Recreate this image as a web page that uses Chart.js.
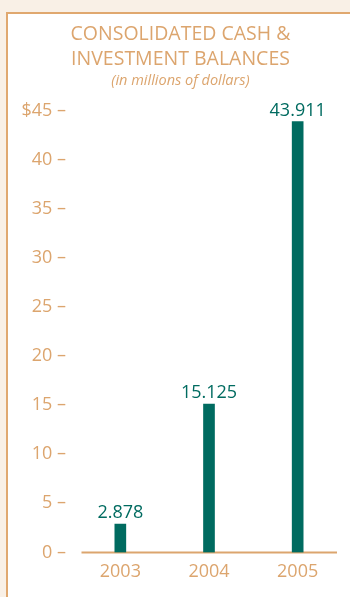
<!DOCTYPE html>
<html>
<head>
<meta charset="utf-8">
<script src="https://cdn.jsdelivr.net/npm/chart.js@4/dist/chart.umd.min.js"></script>
<style>
  html, body { margin: 0; padding: 0; }
  body { width: 350px; height: 597px; background: #f9f0e6; position: relative; overflow: hidden; }
  .panel { position: absolute; left: 6px; top: 12px; width: 400px; height: 700px;
           border: 2px solid #e0a86f; background: #ffffff; }
  #cash_chart { position: absolute; left: 0; top: 0; }
</style>
</head>
<body>
<div class="panel"></div>
<canvas id="cash_chart" width="350" height="597"></canvas>
<script>
const years = ["2003", "2004", "2005"];
const balances = [2.878, 15.125, 43.911];   // millions of dollars
const y_ticks = [0, 5, 10, 15, 20, 25, 30, 35, 40, 45];

const ORANGE = "#dca56e";
const TEAL = "#006b60";
const FONT = "'Open Sans', 'Noto Sans', sans-serif";

// value above each bar
const bar_values = {
    id: "bar_values",
    afterDatasetsDraw(chart){
        const ctx = chart.ctx;
        const meta = chart.getDatasetMeta(0);
        ctx.save();
        ctx.fillStyle = TEAL;
        ctx.font = "18px " + FONT;
        ctx.textAlign = "center";
        ctx.textBaseline = "middle";
        meta.data.forEach(function(bar, i){
            ctx.fillText(balances[i].toFixed(3), bar.x, bar.y - 11);
        });
        ctx.restore();
    }
};

// baseline under the bars, a little shorter than the plot area
const base_line = {
    id: "base_line",
    beforeDatasetsDraw(chart){
        const ctx = chart.ctx;
        const area = chart.chartArea;
        const y0 = chart.scales.y.getPixelForValue(0);
        ctx.save();
        ctx.strokeStyle = ORANGE;
        ctx.lineWidth = 2;
        ctx.beginPath();
        ctx.moveTo(area.left + 5.5, y0);
        ctx.lineTo(area.right - 5, y0);
        ctx.stroke();
        ctx.restore();
    }
};

new Chart(document.getElementById("cash_chart"), {
    type: "bar",
    data: {
        labels: years,
        datasets: [{
            data: balances,
            backgroundColor: TEAL,
            barThickness: 11
        }]
    },
    options: {
        responsive: false,
        animation: false,
        layout: { padding: { left: 19, right: 8, top: 0, bottom: 5 } },
        plugins: {
            legend: { display: false },
            tooltip: { enabled: false },
            title: {
                display: true,
                text: ["CONSOLIDATED CASH &", "INVESTMENT BALANCES"],
                color: ORANGE,
                font: { family: FONT, size: 19.5, weight: "normal", lineHeight: "25px" },
                padding: { top: 22, bottom: 0 }
            },
            subtitle: {
                display: true,
                text: "(in millions of dollars)",
                color: ORANGE,
                font: { family: FONT, size: 14.5, style: "italic", lineHeight: "16px" },
                padding: { top: 1, bottom: 22 }
            }
        },
        scales: {
            x: {
                grid: { display: false, drawTicks: false },
                border: { display: false },
                ticks: {
                    color: ORANGE,
                    font: { family: FONT, size: 18 },
                    padding: 9
                }
            },
            y: {
                min: 0,
                max: 45,
                afterBuildTicks(scale){
                    scale.ticks = y_ticks.map(v => ({ value: v }));
                },
                afterFit(scale){
                    scale.width = 57;
                },
                grid: { display: false, drawTicks: false },
                border: { display: false },
                ticks: {
                    color: ORANGE,
                    font: { family: FONT, size: 18 },
                    padding: 10,
                    callback: v => (v === 45 ? "$45" : String(v)) + " \u2013"
                }
            }
        }
    },
    plugins: [base_line, bar_values]
});
</script>
</body>
</html>
